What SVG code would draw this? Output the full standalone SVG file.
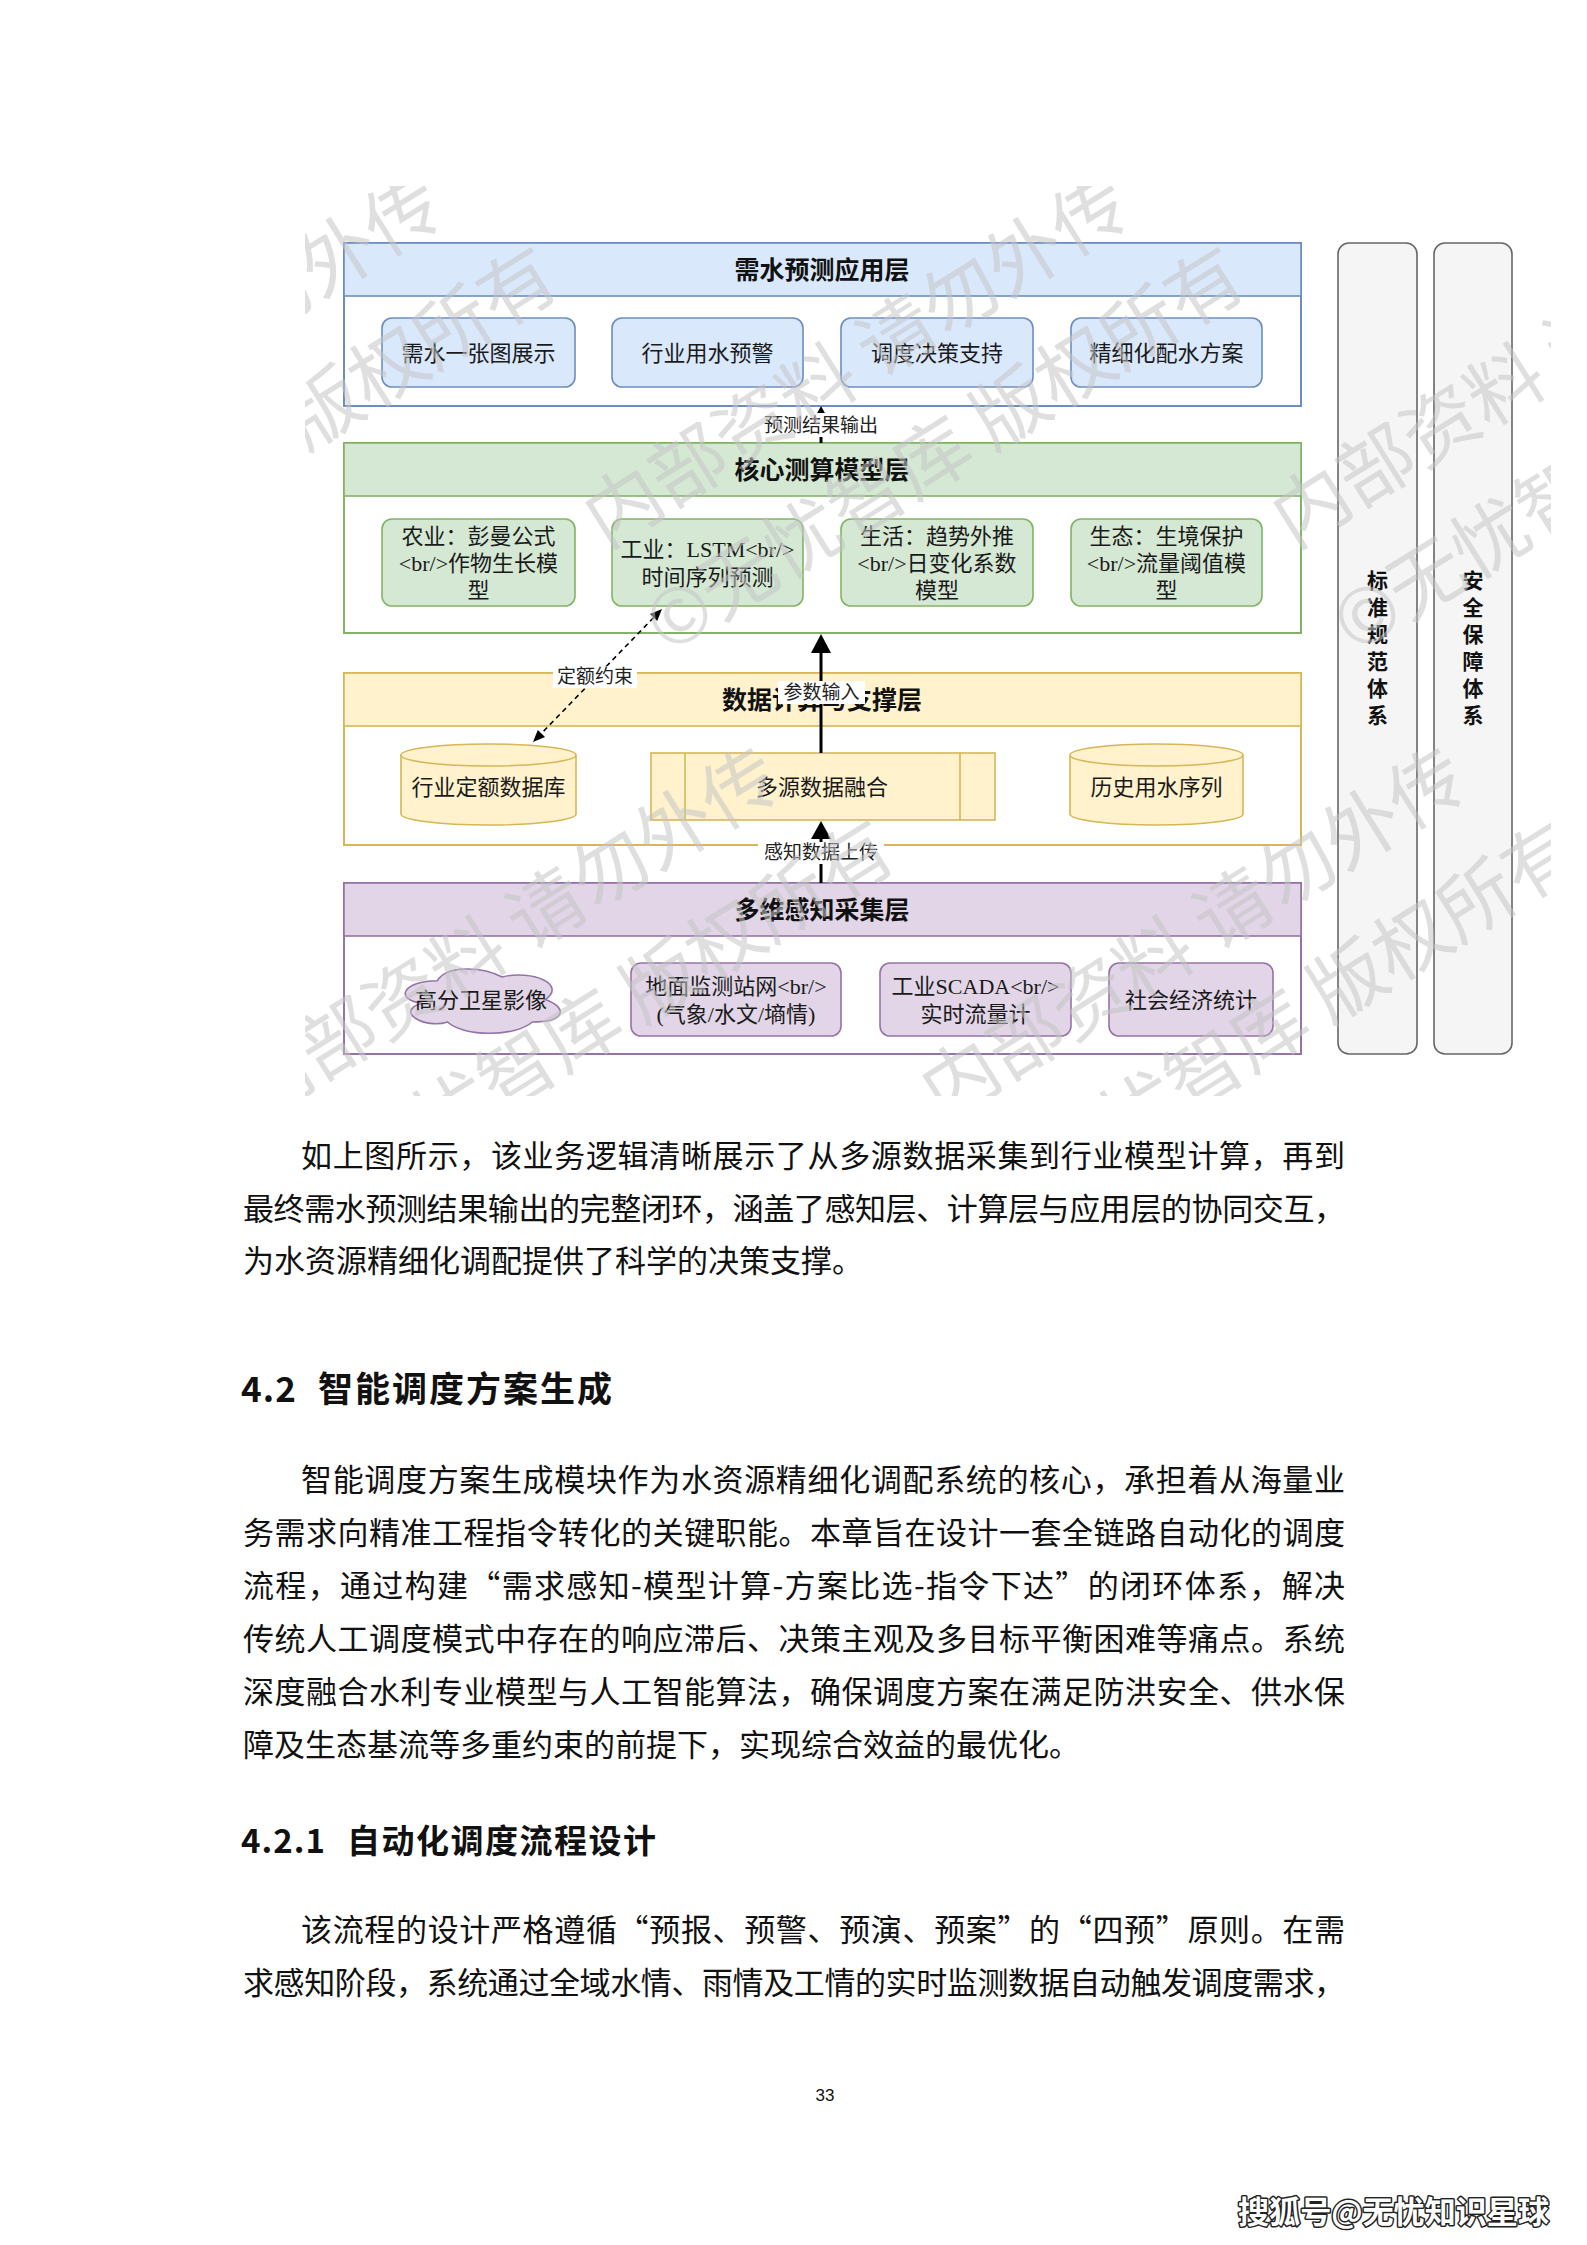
<svg xmlns="http://www.w3.org/2000/svg" width="1587" height="2245" viewBox="0 0 1587 2245">
<defs>
<style>
.dg{font-family:"Liberation Serif","Noto Sans CJK SC",serif;font-size:22px;fill:#1a1a1a;text-anchor:middle}
.ttl{font-family:"Noto Sans CJK SC",sans-serif;font-size:25px;font-weight:bold;fill:#111;text-anchor:middle}
.lbl{font-family:"Noto Sans CJK SC",sans-serif;font-size:19px;fill:#222;text-anchor:middle}
.side{font-family:"Noto Sans CJK SC",sans-serif;font-size:21px;font-weight:bold;fill:#111;text-anchor:middle}
.body{font-family:"Noto Sans CJK SC",sans-serif;font-size:31px;fill:#111}
.h1{font-family:"Noto Sans CJK SC",sans-serif;font-size:35px;font-weight:bold;fill:#111}
.h2{font-family:"Noto Sans CJK SC",sans-serif;font-size:33px;font-weight:bold;fill:#111}
.wm{font-family:"Noto Sans CJK SC",sans-serif;font-size:76px;fill:#c4c4c4;fill-opacity:0.55}
.blue{fill:#dae8fc;stroke:#6c8ebf;stroke-width:1.6}
.green{fill:#d5e8d4;stroke:#82b366;stroke-width:1.6}
.yellow{fill:#fff2cc;stroke:#d6b656;stroke-width:1.6}
.purple{fill:#e1d5e7;stroke:#9673a6;stroke-width:1.6}
.grey{fill:#f5f5f5;stroke:#666666;stroke-width:1.6}
</style>
<clipPath id="imgclip"><rect x="305" y="186" width="1246" height="910"/></clipPath>
<g id="wmtile">
<g transform="rotate(-32)">
<text class="wm" x="39" y="28" text-anchor="end">内部资料 请勿外传</text>
<text class="wm" x="98" y="150" text-anchor="end">©无忧智库 版权所有</text>
</g>
</g>
</defs>
<rect x="0" y="0" width="1587" height="2245" fill="#ffffff"/>

<!-- Layer: 需水预测应用层 -->
<g id="layer-app">
<rect x="344" y="243" width="957" height="163" fill="#ffffff" stroke="#6c8ebf" stroke-width="2"/>
<rect x="344" y="243" width="957" height="53" class="blue" stroke-width="2"/>
<text class="ttl" x="822" y="279">需水预测应用层</text>
</g>
<g id="app-1"><rect x="382" y="318" width="193" height="69" rx="10" class="blue"/><text class="dg" x="478.5" y="361">需水一张图展示</text></g>
<g id="app-2"><rect x="612" y="318" width="191" height="69" rx="10" class="blue"/><text class="dg" x="707.5" y="361">行业用水预警</text></g>
<g id="app-3"><rect x="841" y="318" width="192" height="69" rx="10" class="blue"/><text class="dg" x="937" y="361">调度决策支持</text></g>
<g id="app-4"><rect x="1071" y="318" width="191" height="69" rx="10" class="blue"/><text class="dg" x="1166.5" y="361">精细化配水方案</text></g>

<!-- Layer: 核心测算模型层 -->
<g id="layer-core">
<rect x="344" y="443" width="957" height="190" fill="#ffffff" stroke="#82b366" stroke-width="2"/>
<rect x="344" y="443" width="957" height="53" class="green" stroke-width="2"/>
<text class="ttl" x="822" y="479">核心测算模型层</text>
</g>
<g id="core-1"><rect x="382" y="519" width="193" height="87" rx="10" class="green"/>
<text class="dg" x="478.5" y="544">农业：彭曼公式</text><text class="dg" x="478.5" y="571">&lt;br/&gt;作物生长模</text><text class="dg" x="478.5" y="598">型</text></g>
<g id="core-2"><rect x="612" y="519" width="191" height="87" rx="10" class="green"/>
<text class="dg" x="707.5" y="557">工业：LSTM&lt;br/&gt;</text><text class="dg" x="707.5" y="585">时间序列预测</text></g>
<g id="core-3"><rect x="841" y="519" width="192" height="87" rx="10" class="green"/>
<text class="dg" x="937" y="544">生活：趋势外推</text><text class="dg" x="937" y="571">&lt;br/&gt;日变化系数</text><text class="dg" x="937" y="598">模型</text></g>
<g id="core-4"><rect x="1071" y="519" width="191" height="87" rx="10" class="green"/>
<text class="dg" x="1166.5" y="544">生态：生境保护</text><text class="dg" x="1166.5" y="571">&lt;br/&gt;流量阈值模</text><text class="dg" x="1166.5" y="598">型</text></g>

<!-- Layer: 数据支撑层 -->
<g id="layer-data">
<rect x="344" y="673" width="957" height="172" fill="#ffffff" stroke="#d6b656" stroke-width="2"/>
<rect x="344" y="673" width="957" height="53" class="yellow" stroke-width="2"/>
<text class="ttl" x="822" y="709">数据计算与支撑层</text>
</g>
<g id="data-db1">
<path d="M401,755 A87.5,11 0 0 1 576,755 L576,814 A87.5,11 0 0 1 401,814 Z" class="yellow"/>
<path d="M401,755 A87.5,11 0 0 0 576,755" fill="none" stroke="#d6b656" stroke-width="1.6"/>
<text class="dg" x="488.5" y="795">行业定额数据库</text></g>
<g id="data-fusion">
<rect x="651" y="753" width="344" height="67" class="yellow"/>
<line x1="685" y1="753" x2="685" y2="820" stroke="#d6b656" stroke-width="1.6"/>
<line x1="960" y1="753" x2="960" y2="820" stroke="#d6b656" stroke-width="1.6"/>
<text class="dg" x="822" y="795">多源数据融合</text></g>
<g id="data-db2">
<path d="M1070,755 A86.5,11 0 0 1 1243,755 L1243,814 A86.5,11 0 0 1 1070,814 Z" class="yellow"/>
<path d="M1070,755 A86.5,11 0 0 0 1243,755" fill="none" stroke="#d6b656" stroke-width="1.6"/>
<text class="dg" x="1156.5" y="795">历史用水序列</text></g>

<!-- Layer: 多维感知采集层 -->
<g id="layer-sense">
<rect x="344" y="883" width="957" height="171" fill="#ffffff" stroke="#9673a6" stroke-width="2"/>
<rect x="344" y="883" width="957" height="53" class="purple" stroke-width="2"/>
<text class="ttl" x="822" y="919">多维感知采集层</text>
</g>
<g id="sense-1">
<path d="M437.3,980.8 C402.7,980.8 394,999.5 421.7,1003.3 C394,1011.5 425.1,1029.5 447.6,1022 C463.2,1037 515.1,1037 532.4,1022 C567,1022 567,1007 545.4,999.5 C567,984.5 532.4,969.5 502.1,977 C480.5,965.75 445.9,965.75 437.3,980.8 Z" class="purple"/>
<text class="dg" x="481" y="1008">高分卫星影像</text></g>
<g id="sense-2"><rect x="631" y="963" width="210" height="73" rx="10" class="purple"/>
<text class="dg" x="736" y="994">地面监测站网&lt;br/&gt;</text><text class="dg" x="736" y="1022">(气象/水文/墒情)</text></g>
<g id="sense-3"><rect x="880" y="963" width="191" height="73" rx="10" class="purple"/>
<text class="dg" x="975.5" y="994">工业SCADA&lt;br/&gt;</text><text class="dg" x="975.5" y="1022">实时流量计</text></g>
<g id="sense-4"><rect x="1109" y="963" width="164" height="73" rx="10" class="purple"/>
<text class="dg" x="1191" y="1008">社会经济统计</text></g>

<!-- Side columns -->
<g id="side-std"><rect x="1338" y="243" width="79" height="811" rx="11" class="grey"/>
<text class="side"><tspan x="1377.5" y="588">标</tspan><tspan x="1377.5" y="615">准</tspan><tspan x="1377.5" y="642">规</tspan><tspan x="1377.5" y="669">范</tspan><tspan x="1377.5" y="696">体</tspan><tspan x="1377.5" y="723">系</tspan></text></g>
<g id="side-sec"><rect x="1434" y="243" width="78" height="811" rx="11" class="grey"/>
<text class="side"><tspan x="1473" y="588">安</tspan><tspan x="1473" y="615">全</tspan><tspan x="1473" y="642">保</tspan><tspan x="1473" y="669">障</tspan><tspan x="1473" y="696">体</tspan><tspan x="1473" y="723">系</tspan></text></g>

<!-- Connectors -->
<g id="connectors">
<line x1="821" y1="443" x2="821" y2="423" stroke="#000" stroke-width="3"/>
<polygon points="821,406 811,424 831,424" fill="#000"/>
<rect x="758" y="413" width="126" height="24" fill="#ffffff"/>
<text class="lbl" x="821" y="432">预测结果输出</text>

<line x1="821" y1="753" x2="821" y2="652" stroke="#000" stroke-width="3"/>
<polygon points="821,634 811,653 831,653" fill="#000"/>
<rect x="778" y="681" width="87" height="23" fill="#ffffff"/>
<text class="lbl" x="821.5" y="699">参数输入</text>

<line x1="821" y1="883" x2="821" y2="838" stroke="#000" stroke-width="3"/>
<polygon points="821,821 811,839 831,839" fill="#000"/>
<rect x="758" y="842" width="126" height="22" fill="#ffffff"/>
<text class="lbl" x="821" y="859">感知数据上传</text>

<line x1="653.6" y1="617.6" x2="541.4" y2="733.4" stroke="#000" stroke-width="1.6" stroke-dasharray="5 4"/>
<polygon points="662,609 657.2,621.1 650,614.1" fill="#000"/>
<polygon points="533,742 545,736.9 537.8,729.9" fill="#000"/>
<rect x="553" y="666" width="84" height="22" fill="#ffffff"/>
<text class="lbl" x="595" y="683">定额约束</text>
</g>

<!-- Image watermark -->
<g clip-path="url(#imgclip)">
<use href="#wmtile" transform="translate(401,215)"/>
<use href="#wmtile" transform="translate(1088,215)"/>
<use href="#wmtile" transform="translate(1776,215)"/>
<use href="#wmtile" transform="translate(50,788)"/>
<use href="#wmtile" transform="translate(738,788)"/>
<use href="#wmtile" transform="translate(1425,788)"/>
</g>

<!-- Body text -->
<text class="body" x="301" y="1167" textLength="1044" lengthAdjust="spacing">如上图所示，该业务逻辑清晰展示了从多源数据采集到行业模型计算，再到</text>
<text class="body" x="243" y="1220" textLength="1102" lengthAdjust="spacing">最终需水预测结果输出的完整闭环，涵盖了感知层、计算层与应用层的协同交互，</text>
<text class="body" x="243" y="1272">为水资源精细化调配提供了科学的决策支撑。</text>

<text class="h1" x="241" y="1402" textLength="55" lengthAdjust="spacing">4.2</text>
<text class="h1" x="318" y="1402" textLength="294" lengthAdjust="spacing">智能调度方案生成</text>

<text class="body" x="301" y="1491" textLength="1044" lengthAdjust="spacing">智能调度方案生成模块作为水资源精细化调配系统的核心，承担着从海量业</text>
<text class="body" x="243" y="1544" textLength="1102" lengthAdjust="spacing">务需求向精准工程指令转化的关键职能。本章旨在设计一套全链路自动化的调度</text>
<text class="body" x="243" y="1597" textLength="1102" lengthAdjust="spacing">流程，通过构建“需求感知-模型计算-方案比选-指令下达”的闭环体系，解决</text>
<text class="body" x="243" y="1650" textLength="1102" lengthAdjust="spacing">传统人工调度模式中存在的响应滞后、决策主观及多目标平衡困难等痛点。系统</text>
<text class="body" x="243" y="1703" textLength="1102" lengthAdjust="spacing">深度融合水利专业模型与人工智能算法，确保调度方案在满足防洪安全、供水保</text>
<text class="body" x="243" y="1756">障及生态基流等多重约束的前提下，实现综合效益的最优化。</text>

<text class="h2" x="241" y="1853" textLength="84" lengthAdjust="spacing">4.2.1</text>
<text class="h2" x="347" y="1853" textLength="309" lengthAdjust="spacing">自动化调度流程设计</text>

<text class="body" x="301" y="1941" textLength="1044" lengthAdjust="spacing">该流程的设计严格遵循“预报、预警、预演、预案”的“四预”原则。在需</text>
<text class="body" x="243" y="1994" textLength="1102" lengthAdjust="spacing">求感知阶段，系统通过全域水情、雨情及工情的实时监测数据自动触发调度需求，</text>

<text x="825" y="2101" font-family="Liberation Sans, sans-serif" font-size="17" fill="#111" text-anchor="middle">33</text>

<text x="1238" y="2223" textLength="311" lengthAdjust="spacingAndGlyphs" font-family="Noto Sans CJK SC, sans-serif" font-size="31" font-weight="bold" fill="#ffffff" stroke="#222222" stroke-width="3" paint-order="stroke" stroke-linejoin="round">搜狐号@无忧知识星球</text>
</svg>
